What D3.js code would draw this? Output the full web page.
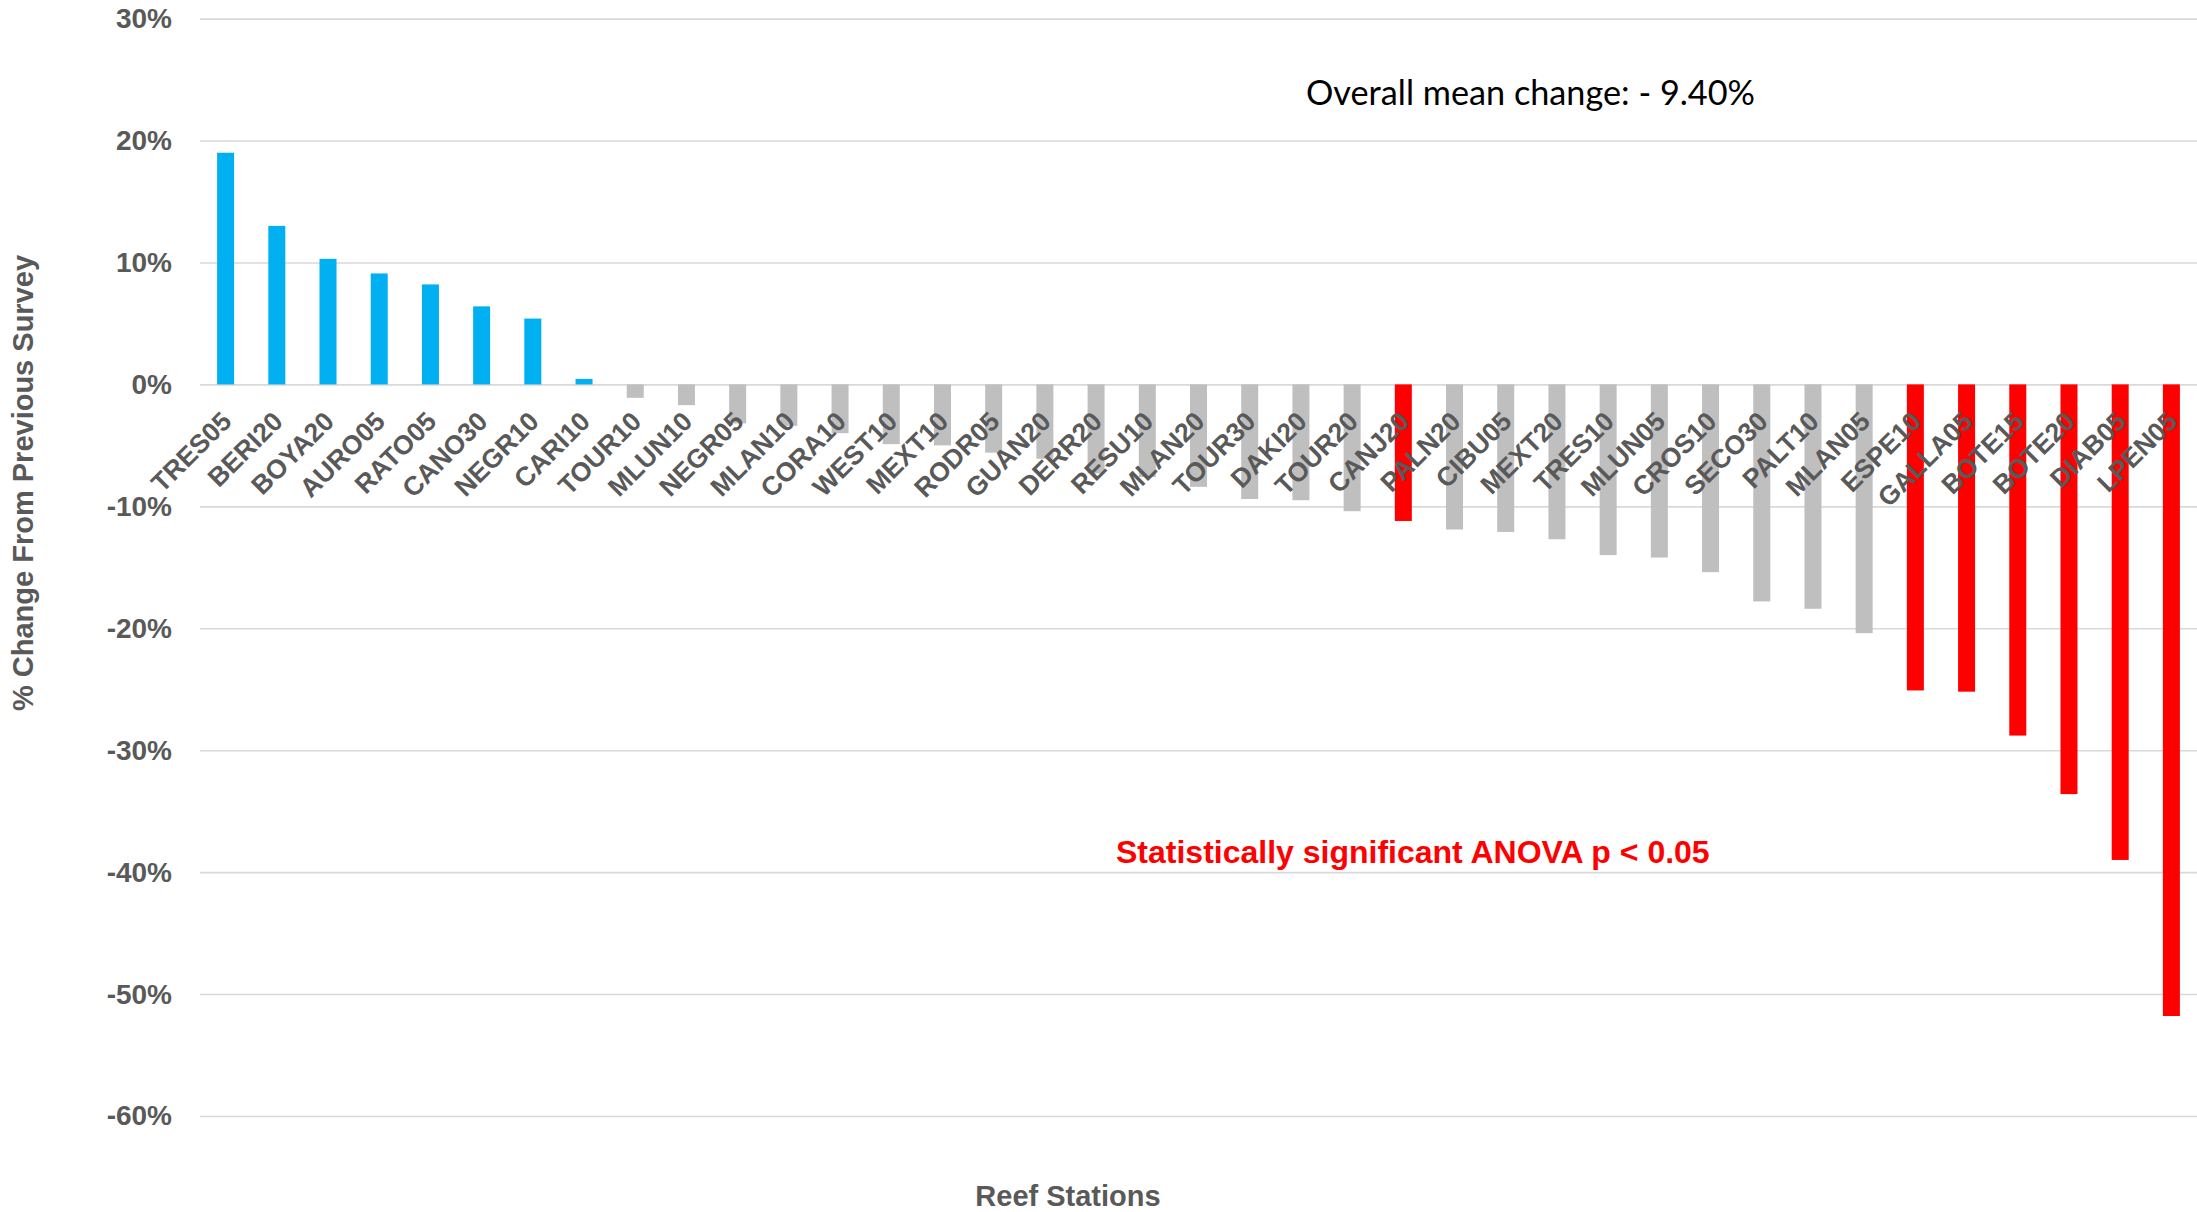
<!DOCTYPE html>
<html>
<head>
<meta charset="utf-8">
<script src="https://cdn.jsdelivr.net/npm/d3@7"></script>
<style>
  html, body { margin: 0; padding: 0; background: #ffffff; }
  svg { display: block; }
</style>
</head>
<body>
<svg id="chart" width="2197" height="1212"></svg>
<script>
// ---- Data ----
const stations = ["TRES05","BERI20","BOYA20","AURO05","RATO05","CANO30","NEGR10","CARI10",
  "TOUR10","MLUN10","NEGR05","MLAN10","CORA10","WEST10","MEXT10","RODR05","GUAN20","DERR20",
  "RESU10","MLAN20","TOUR30","DAKI20","TOUR20","CANJ20","PALN20","CIBU05","MEXT20","TRES10",
  "MLUN05","CROS10","SECO30","PALT10","MLAN05","ESPE10","GALLA05","BOTE15","BOTE20","DIAB05","LPEN05"];
const pctChange = [19.0, 13.0, 10.3, 9.1, 8.2, 6.4, 5.4, 0.45,
  -1.1, -1.7, -3.2, -3.4, -4.0, -4.9, -5.0, -5.6, -6.1, -7.3,
  -7.6, -8.4, -9.4, -9.5, -10.4, -11.2, -11.9, -12.1, -12.7, -14.0,
  -14.2, -15.4, -17.8, -18.4, -20.4, -25.1, -25.2, -28.8, -33.6, -39.0, -51.8];
const significant = ["CANJ20","ESPE10","GALLA05","BOTE15","BOTE20","DIAB05","LPEN05"];
const yTicks = [30, 20, 10, 0, -10, -20, -30, -40, -50, -60];
const meanText = "Overall mean change: - 9.40%";
const anovaText = "Statistically significant ANOVA p < 0.05";
const xTitle = "Reef Stations";
const yTitle = "% Change From Previous Survey";

const data = stations.map((s, i) => ({ station: s, value: pctChange[i] }));

// ---- Layout ----
const svg = d3.select("#chart");
svg.append("rect").attr("width", 2197).attr("height", 1212).attr("fill", "#ffffff");

const plotLeft = 200, plotRight = 2197, yTop = 18.6, yBottom = 1116;

const x = d3.scaleBand()
  .domain(stations)
  .range([plotLeft, plotRight])
  .paddingInner(0.668)
  .paddingOuter(0.334);

const y = d3.scaleLinear().domain([-60, 30]).range([yBottom, yTop]);

const textGrey = "#595959";
const fontFam = "'Liberation Sans', Arial, sans-serif";

// gridlines
const yAxis = d3.axisLeft(y)
  .tickValues(yTicks)
  .tickSize(-(plotRight - plotLeft))
  .tickPadding(28)
  .tickFormat(d => d + "%");

const gy = svg.append("g")
  .attr("transform", `translate(${plotLeft},0)`)
  .call(yAxis);
gy.select(".domain").remove();
gy.selectAll(".tick line").attr("stroke", "#d9d9d9").attr("stroke-width", 1.6);
gy.selectAll(".tick text")
  .attr("fill", textGrey)
  .attr("font-family", fontFam)
  .attr("font-weight", "bold")
  .attr("font-size", 28);

// bars
function barColor(d) {
  if (significant.includes(d.station)) return "#ff0000";
  if (d.value > 0) return "#00b0f0";
  return "#bfbfbf";
}

svg.append("g").selectAll("rect")
  .data(data)
  .join("rect")
  .attr("x", d => x(d.station))
  .attr("width", x.bandwidth())
  .attr("y", d => Math.min(y(d.value), y(0)))
  .attr("height", d => Math.abs(y(d.value) - y(0)))
  .attr("fill", barColor);

// category labels (drawn on top of bars)
const xAxis = d3.axisBottom(x).tickSize(0).tickPadding(0);
const gx = svg.append("g")
  .attr("transform", `translate(0,${y(0)})`)
  .call(xAxis);
gx.select(".domain").remove();
gx.selectAll(".tick text")
  .attr("fill", textGrey)
  .attr("font-family", fontFam)
  .attr("font-weight", "bold")
  .attr("font-size", 26.5)
  .attr("text-anchor", "end")
  .attr("y", 0)
  .attr("dy", "0.35em")
  .attr("transform", "translate(1,32) rotate(-45)");

// axis titles
svg.append("text")
  .attr("x", 1068).attr("y", 1206)
  .attr("text-anchor", "middle")
  .attr("fill", textGrey)
  .attr("font-family", fontFam)
  .attr("font-weight", "bold")
  .attr("font-size", 29)
  .text(xTitle);

svg.append("text")
  .attr("transform", "translate(33,483) rotate(-90)")
  .attr("text-anchor", "middle")
  .attr("fill", textGrey)
  .attr("font-family", fontFam)
  .attr("font-weight", "bold")
  .attr("font-size", 29)
  .text(yTitle);

// annotations
svg.append("text")
  .attr("x", 1306).attr("y", 105)
  .attr("fill", "#000000")
  .attr("font-family", "Lato, 'Open Sans', sans-serif")
  .attr("font-size", 34)
  .attr("textLength", 449)
  .attr("lengthAdjust", "spacingAndGlyphs")
  .text(meanText);

svg.append("text")
  .attr("x", 1116).attr("y", 863)
  .attr("fill", "#ff0000")
  .attr("font-family", fontFam)
  .attr("font-weight", "bold")
  .attr("font-size", 32)
  .text(anovaText);
</script>
</body>
</html>
